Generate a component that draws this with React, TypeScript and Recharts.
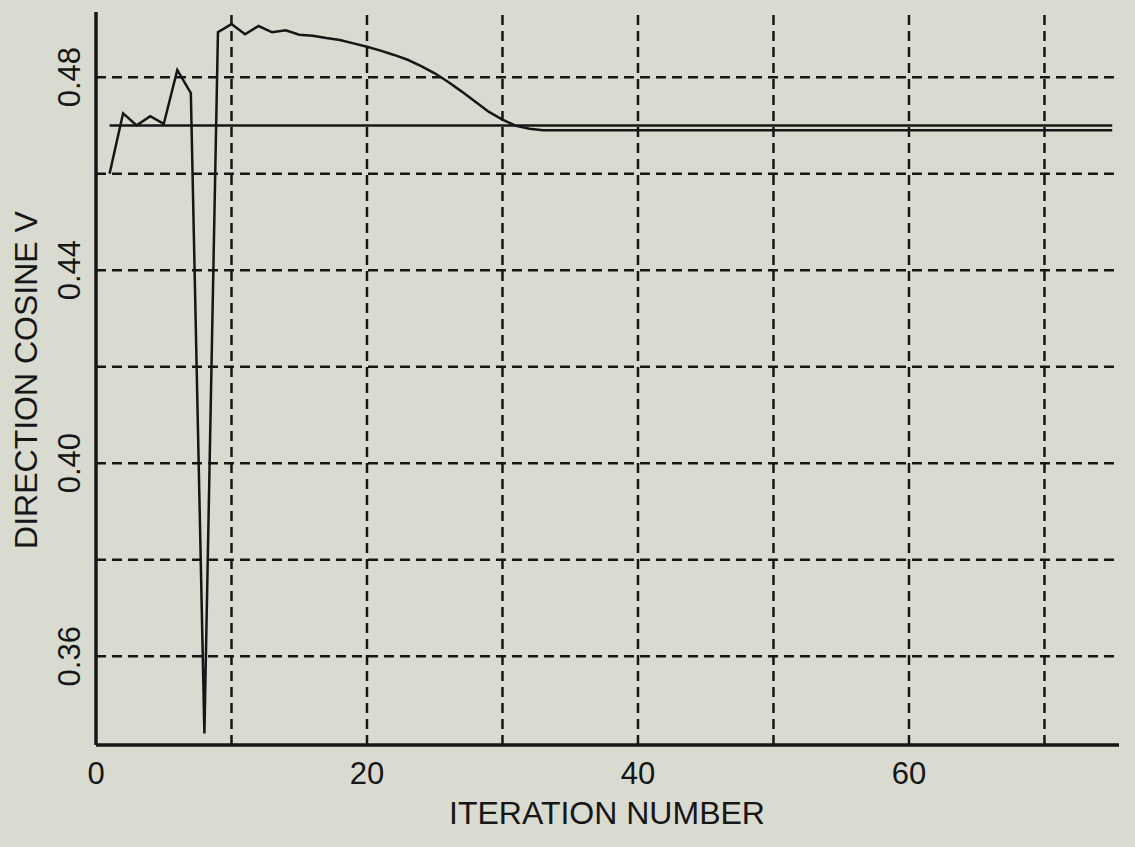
import { LineChart, Line, XAxis, YAxis, ReferenceLine } from "recharts"

// iteration numbers and the computed direction cosine V at each one
const iterations = [
  1, 2, 3, 4, 5, 6, 7, 8, 9, 10, 11, 12, 13, 14, 15, 16, 17, 18, 19, 20, 21, 22, 23, 24, 25,
  26, 27, 28, 29, 30, 31, 32, 33, 34, 35, 36, 37, 38, 39, 40, 41, 42, 43, 44, 45, 46, 47, 48, 49, 50,
  51, 52, 53, 54, 55, 56, 57, 58, 59, 60, 61, 62, 63, 64, 65, 66, 67, 68, 69, 70, 71, 72, 73, 74, 75,
]
const cosineV = [
  0.46, 0.4725, 0.47, 0.4719, 0.4703, 0.4815, 0.4767, 0.344, 0.4893, 0.491,
  0.4889, 0.4906, 0.4893, 0.4897, 0.4888, 0.4886, 0.4881, 0.4877, 0.487, 0.4863,
  0.4855, 0.4846, 0.4836, 0.4823, 0.4808, 0.479, 0.477, 0.4749, 0.4728, 0.4712,
  0.4699, 0.4693, 0.469, 0.469, 0.469, 0.469, 0.469, 0.469, 0.469, 0.469,
  0.469, 0.469, 0.469, 0.469, 0.469, 0.469, 0.469, 0.469, 0.469, 0.469,
  0.469, 0.469, 0.469, 0.469, 0.469, 0.469, 0.469, 0.469, 0.469, 0.469,
  0.469, 0.469, 0.469, 0.469, 0.469, 0.469, 0.469, 0.469, 0.469, 0.469,
  0.469, 0.469, 0.469, 0.469, 0.469,
]

// true value drawn as a flat line
const trueIterations = [1, 75]
const trueValue = [0.47, 0.47]

const xTicks = [0, 20, 40, 60]
const yTicks = [0.36, 0.4, 0.44, 0.48]
const xGrid = [10, 20, 30, 40, 50, 60, 70]
const yGrid = [0.36, 0.38, 0.4, 0.42, 0.44, 0.46, 0.48]

const series = iterations.map((it, i) => ({ it, v: cosineV[i] }))
const truth = trueIterations.map((it, i) => ({ it, v: trueValue[i] }))

const INK = "#161616"
const FONT = "'Liberation Sans', Arial, sans-serif"

function XTick({ x, payload }: any) {
  return (
    <text x={x} y={784} textAnchor="middle" fontSize={31} fontFamily={FONT} fill={INK}>
      {payload.value}
    </text>
  )
}

function YTick({ y, payload }: any) {
  return (
    <text
      x={80}
      y={y}
      transform={`rotate(-90, 80, ${y})`}
      textAnchor="middle"
      fontSize={31}
      fontFamily={FONT}
      fill={INK}
    >
      {Number(payload.value).toFixed(2)}
    </text>
  )
}

export default function App() {
  return (
    <div style={{ position: "fixed", left: 0, top: 0, width: 1135, height: 847, background: "#d9dbd0" }}>
      <LineChart
        width={1135}
        height={847}
        margin={{ top: 12, right: 16, bottom: 0, left: 0 }}
      >
        <XAxis
          dataKey="it"
          type="number"
          domain={[0, 75.5]}
          ticks={xTicks}
          allowDataOverflow
          height={102}
          tickLine={false}
          axisLine={{ stroke: INK, strokeWidth: 3.5 }}
          tick={<XTick />}
          label={{
            content: () => (
              <text x={607} y={824} textAnchor="middle" fontSize={32} fontFamily={FONT} fill={INK}>
                ITERATION NUMBER
              </text>
            ),
          }}
        />
        <YAxis
          type="number"
          domain={[0.3416, 0.4935]}
          ticks={yTicks}
          allowDataOverflow
          width={96}
          tickLine={false}
          axisLine={{ stroke: INK, strokeWidth: 3.5 }}
          tick={<YTick />}
          label={{
            content: () => (
              <text
                x={37}
                y={380}
                transform="rotate(-90, 37, 380)"
                textAnchor="middle"
                fontSize={32}
                fontFamily={FONT}
                fill={INK}
              >
                DIRECTION COSINE V
              </text>
            ),
          }}
        />
        {xGrid.map((g) => (
          <ReferenceLine key={`x${g}`} x={g} stroke={INK} strokeWidth={2.5} strokeDasharray="10 6" />
        ))}
        {yGrid.map((g) => (
          <ReferenceLine key={`y${g}`} y={g} stroke={INK} strokeWidth={2.5} strokeDasharray="10 6" />
        ))}
        <Line
          data={truth}
          dataKey="v"
          type="linear"
          stroke={INK}
          strokeWidth={2.5}
          dot={false}
          isAnimationActive={false}
        />
        <Line
          data={series}
          dataKey="v"
          type="linear"
          stroke={INK}
          strokeWidth={2.5}
          dot={false}
          isAnimationActive={false}
        />
      </LineChart>
    </div>
  )
}
